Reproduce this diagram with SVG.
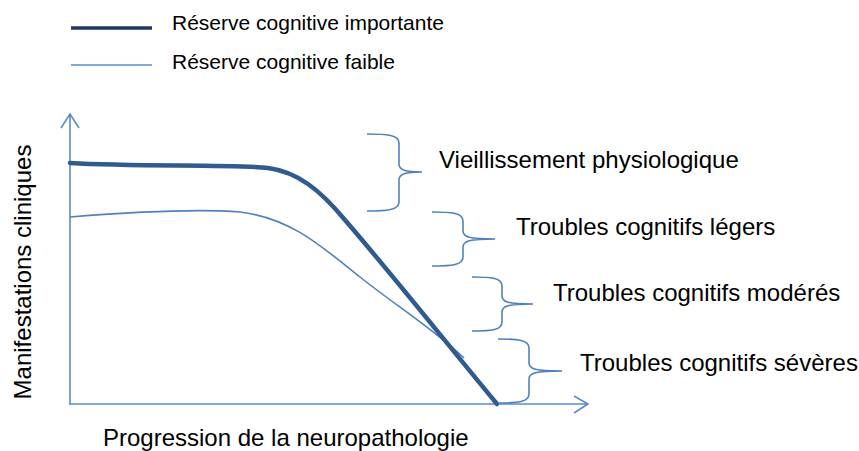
<svg xmlns="http://www.w3.org/2000/svg" width="859" height="451" viewBox="0 0 859 451">
<style>
text { font-family: "Liberation Sans", Arial, sans-serif; fill: #000; }
.lbl { font-size: 24px; }
.leg { font-size: 21px; }
.axis { fill: none; stroke: #5b8bc9; stroke-width: 1.6; }
.brace { fill: none; stroke: #4f81bd; stroke-width: 1.6; }
.strong { fill: none; stroke: #2f5b8e; stroke-width: 4.5; stroke-linecap: round; stroke-linejoin: round; }
.weak { fill: none; stroke: #4f81bd; stroke-width: 1.6; }
</style>
<rect width="859" height="451" fill="#fff"/>
<g id="legend">
  <line x1="71" y1="28" x2="152" y2="28" stroke="#1f3864" stroke-width="3.5"/>
  <text class="leg" x="172" y="30">Réserve cognitive importante</text>
  <line x1="71" y1="65" x2="152" y2="65" stroke="#5b8bc9" stroke-width="1.6"/>
  <text class="leg" x="172" y="69">Réserve cognitive faible</text>
</g>
<g id="axes">
  <path class="axis" d="M70,405 L70,114 M61,128 L70,114 L79,128"/>
  <path class="axis" d="M70,404 L588,404 M574,396 L588,404 L574,413"/>
  <text class="lbl" transform="translate(31,272) rotate(-90)" text-anchor="middle">Manifestations cliniques</text>
  <text class="lbl" x="103" y="446">Progression de la neuropathologie</text>
</g>
<g id="connectors">
  <path class="weak" d="M70,217 C120,213 190,208 240,212 C290,218 320,245 360,277 C395,305 432,328 464,358"/>
  <path class="strong" d="M70,163 C140,167 230,164 268,168 C298,172 320,190 345,220 C390,272 440,335 497,404"/>
</g>
<g id="n-vieillissement">
  <path class="brace" d="M367,134 C387,134 399,135 399,143 L399,164 C399,170 405,172 422,172 C405,172 399,174 399,180 L399,202 C399,210 387,211 367,211"/>
  <text class="lbl" x="439" y="168">Vieillissement physiologique</text>
</g>
<g id="n-legers">
  <path class="brace" d="M432,212 C452,212 463,213 463,221 L463,231 C463,237 469,239 495,239 C469,239 463,241 463,247 L463,257 C463,265 452,266 432,266"/>
  <text class="lbl" x="516" y="235">Troubles cognitifs légers</text>
</g>
<g id="n-moderes">
  <path class="brace" d="M472,277 C492,277 502,278 502,286 L502,296 C502,302 508,304 533,304 C508,304 502,306 502,312 L502,322 C502,330 492,331 472,331"/>
  <text class="lbl" x="553" y="301">Troubles cognitifs modérés</text>
</g>
<g id="n-severes">
  <path class="brace" d="M498,339 C518,339 529,340 529,348 L529,363 C529,369 535,371 562,371 C535,371 529,373 529,379 L529,394 C529,402 518,403 498,403"/>
  <text class="lbl" x="580" y="371">Troubles cognitifs sévères</text>
</g>
</svg>
